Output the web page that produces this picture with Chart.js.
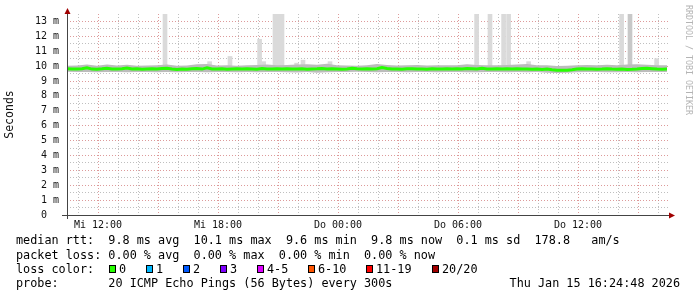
<!DOCTYPE html>
<html>
<head>
<meta charset="utf-8">
<script src="https://cdn.jsdelivr.net/npm/chart.js@4"></script>
<style>
html,body{margin:0;padding:0;background:#fff}
canvas{display:block}
</style>
</head>
<body>
<canvas id="smokeChart" width="697" height="297"></canvas>
<script>
// hours are counted from Mi 12:00
const startHour = -1.55
const medianStep = 0.25
const bandStep = 0.5

const medianRtt = [
9.82,9.81,9.80,9.82,9.88,9.80,9.79,9.82,9.86,9.81,
9.80,9.83,9.87,9.80,9.82,9.79,9.81,9.82,9.80,9.84,
9.86,9.80,9.78,9.80,9.79,9.82,9.84,9.80,9.88,9.81,
9.80,9.82,9.79,9.81,9.83,9.80,9.82,9.81,9.79,9.84,
9.81,9.80,9.82,9.80,9.83,9.81,9.80,9.82,9.79,9.81,
9.82,9.84,9.80,9.83,9.81,9.79,9.81,9.86,9.82,9.80,
9.83,9.80,9.82,9.90,9.84,9.81,9.80,9.79,9.82,9.83,
9.80,9.81,9.79,9.82,9.80,9.81,9.83,9.80,9.82,9.81,
9.84,9.82,9.80,9.86,9.81,9.80,9.82,9.81,9.83,9.80,
9.82,9.80,9.81,9.79,9.80,9.78,9.80,9.76,9.73,9.72,
9.73,9.76,9.80,9.82,9.80,9.81,9.79,9.80,9.82,9.80,
9.79,9.80,9.78,9.79,9.81,9.84,9.86,9.83,9.80,9.79,
9.80
]

const smokeLow = [
9.62,9.60,9.61,9.59,9.61,9.60,9.58,9.61,9.60,9.59,
9.61,9.58,9.60,9.61,9.59,9.60,9.61,9.59,9.60,9.58,
9.61,9.60,9.59,9.57,9.60,9.56,9.59,9.61,9.60,9.62,
9.60,9.59,9.61,9.60,9.58,9.60,9.61,9.59,9.60,9.61,
9.59,9.58,9.60,9.61,9.59,9.60,9.58,9.60,9.56,9.54,
9.55,9.58,9.60,9.61,9.59,9.58,9.60,9.59,9.60,9.61,
9.60
]

const smokeHigh = [
10.02,10.04,10.11,10.03,10.10,10.04,10.09,10.03,10.04,10.05,
10.11,10.03,10.04,10.12,10.14,10.04,10.06,10.03,10.05,10.08,
10.10,10.05,10.08,10.11,10.12,10.09,10.16,10.05,10.04,10.03,
10.06,10.14,10.08,10.04,10.05,10.07,10.04,10.06,10.05,10.06,
10.12,10.08,10.05,10.06,10.08,10.11,10.14,10.06,10.05,10.01,
10.02,10.06,10.08,10.05,10.09,10.06,10.10,10.12,10.09,10.06,
10.05
]

const spikeHours = [3.35,5.58,6.6,8.08,8.28,8.85,9.05,9.2,9.93,10.25,11.6,18.93,19.6,20.28,20.53,21.53,26.18,26.6,27.93]
const spikeTops  = [13.5,10.3,10.65,11.8,10.3,13.5,13.5,13.5,10.2,10.4,10.3,13.5,13.5,13.5,13.5,10.3,13.5,13.5,10.5]
const spikeBase = 9.9

const dayNames = ["Mi","Do"]

const lossLabels = ["0","1","2","3","4-5","6-10","11-19","20/20"]
const lossColors = ["#26ff00","#00b8ff","#0059ff","#7e00ff","#dd00ff","#ff5500","#ff0000","#a10000"]

const statLines = [
"median rtt:  9.8 ms avg  10.1 ms max  9.6 ms min  9.8 ms now  0.1 ms sd  178.8   am/s",
"packet loss: 0.00 % avg  0.00 % max  0.00 % min  0.00 % now"
]
const probeText = "probe:       20 ICMP Echo Pings (56 Bytes) every 300s"
const stampText = "Thu Jan 15 16:24:48 2026"

const mono = "'DejaVu Sans Mono', 'Liberation Mono', monospace"

function series(values, step){
  return values.map((v,i) => ({x: startHour + i*step, y: v}))
}

const rrdDecor = {
  id: "rrdDecor",
  beforeDraw(chart){
    const c = chart.ctx
    c.save()
    c.fillStyle = "#fff"
    c.fillRect(0,0,chart.width,chart.height)
    c.restore()
  },
  afterDraw(chart){
    const c = chart.ctx
    const a = chart.chartArea
    c.save()
    // axes
    c.strokeStyle = "#444"
    c.lineWidth = 1
    c.beginPath()
    c.moveTo(a.left-5, Math.round(a.bottom)+0.5)
    c.lineTo(a.right+1, Math.round(a.bottom)+0.5)
    c.moveTo(Math.round(a.left)+0.5, a.bottom+4)
    c.lineTo(Math.round(a.left)+0.5, a.top-1)
    c.stroke()
    c.fillStyle = "#a00000"
    c.beginPath()
    c.moveTo(a.left+0.5, a.top-6)
    c.lineTo(a.left-2.5, a.top)
    c.lineTo(a.left+3.5, a.top)
    c.closePath()
    c.fill()
    c.beginPath()
    c.moveTo(a.right+6, a.bottom+0.5)
    c.lineTo(a.right, a.bottom-2.5)
    c.lineTo(a.right, a.bottom+3.5)
    c.closePath()
    c.fill()

    // watermark
    c.save()
    c.translate(688, 5)
    c.rotate(Math.PI/2)
    c.font = "8.3px " + mono
    c.fillStyle = "#b4b4b4"
    c.textBaseline = "middle"
    c.textAlign = "left"
    c.fillText("RRDTOOL / TOBI OETIKER", 0, 0)
    c.restore()

    // legend text
    c.font = "11.8px " + mono
    c.fillStyle = "#000"
    c.textBaseline = "middle"
    c.textAlign = "left"
    c.fillText(statLines[0], 16, 241)
    c.fillText(statLines[1], 16, 255.5)
    c.fillText("loss color:", 16, 269.5)
    let bx = 109
    lossLabels.forEach((lab,i) => {
      c.fillStyle = lossColors[i]
      c.fillRect(bx, 265, 7, 8)
      c.strokeStyle = "#000"
      c.strokeRect(bx+0.5, 265.5, 6, 7)
      c.fillStyle = "#000"
      c.fillText(lab, bx+10, 269.5)
      bx = Math.round(bx + 30 + c.measureText(lab).width)
    })
    c.fillText(probeText, 16, 283.5)
    c.textAlign = "right"
    c.fillText(stampText, 680, 283.5)
    c.restore()
  }
}

const ctx = document.getElementById("smokeChart")

new Chart(ctx,{
  type:"line",
  data:{
    datasets:[
      {
        label:"smoke low",
        data:series(smokeLow, bandStep),
        borderWidth:0,
        pointRadius:0,
        fill:false,
        order:2
      },
      {
        label:"smoke high",
        data:series(smokeHigh, bandStep),
        borderWidth:0,
        pointRadius:0,
        fill:"-1",
        backgroundColor:"#bcbcbc",
        order:2
      },
      {
        label:"median rtt",
        data:series(medianRtt, medianStep),
        borderColor:"#26ff00",
        borderWidth:3,
        pointRadius:0,
        tension:0,
        fill:false,
        order:0
      },
      {
        type:"bar",
        label:"smoke spikes",
        data:spikeHours.map((h,i) => ({x:h, y:[spikeBase, spikeTops[i]]})),
        backgroundColor:spikeHours.map(h => h === 26.6 ? "#c8c8c8" : "#dadada"),
        borderWidth:0,
        barThickness:4,
        order:3
      }
    ]
  },
  options:{
    responsive:false,
    animation:false,
    layout:{padding:{left:0, right:28, top:14, bottom:62}},
    plugins:{legend:{display:false}, tooltip:{enabled:false}},
    scales:{
      x:{
        type:"linear",
        min:startHour,
        max:28.55,
        offset:false,
        afterFit:s => { s.height = 20 },
        border:{display:false, dash:[1,2]},
        grid:{
          offset:false,
          drawTicks:false,
          color:c => c.tick && c.tick.value % 3 === 0 ? "rgba(210,120,120,0.75)" : "rgba(170,170,170,0.75)"
        },
        ticks:{
          stepSize:1,
          includeBounds:false,
          autoSkip:false,
          maxRotation:0,
          padding:4,
          color:"#111",
          font:{family:mono, size:10},
          callback:v => {
            if (v % 6 !== 0) return ""
            const abs = 12 + v
            const hh = abs % 24
            return dayNames[Math.floor(abs/24)] + " " + String(hh).padStart(2,"0") + ":00"
          }
        }
      },
      y:{
        min:0,
        max:13.5,
        afterFit:s => { s.width = 67 },
        border:{display:false, dash:[1,2]},
        title:{display:true, text:"Seconds", color:"#111", font:{family:mono, size:11.5}, padding:{top:3, bottom:0}},
        grid:{
          drawTicks:false,
          color:c => {
            if (!c.tick || c.tick.value >= 13.5) return "rgba(0,0,0,0)"
            return c.tick.value % 1 === 0 ? "rgba(210,120,120,0.75)" : "rgba(170,170,170,0.75)"
          }
        },
        ticks:{
          stepSize:0.5,
          autoSkip:false,
          padding:8,
          color:"#111",
          font:{family:mono, size:10},
          callback:v => v % 1 !== 0 ? "" : (v === 0 ? "0  " : v + " m")
        }
      }
    }
  },
  plugins:[rrdDecor]
})
</script>
</body>
</html>
